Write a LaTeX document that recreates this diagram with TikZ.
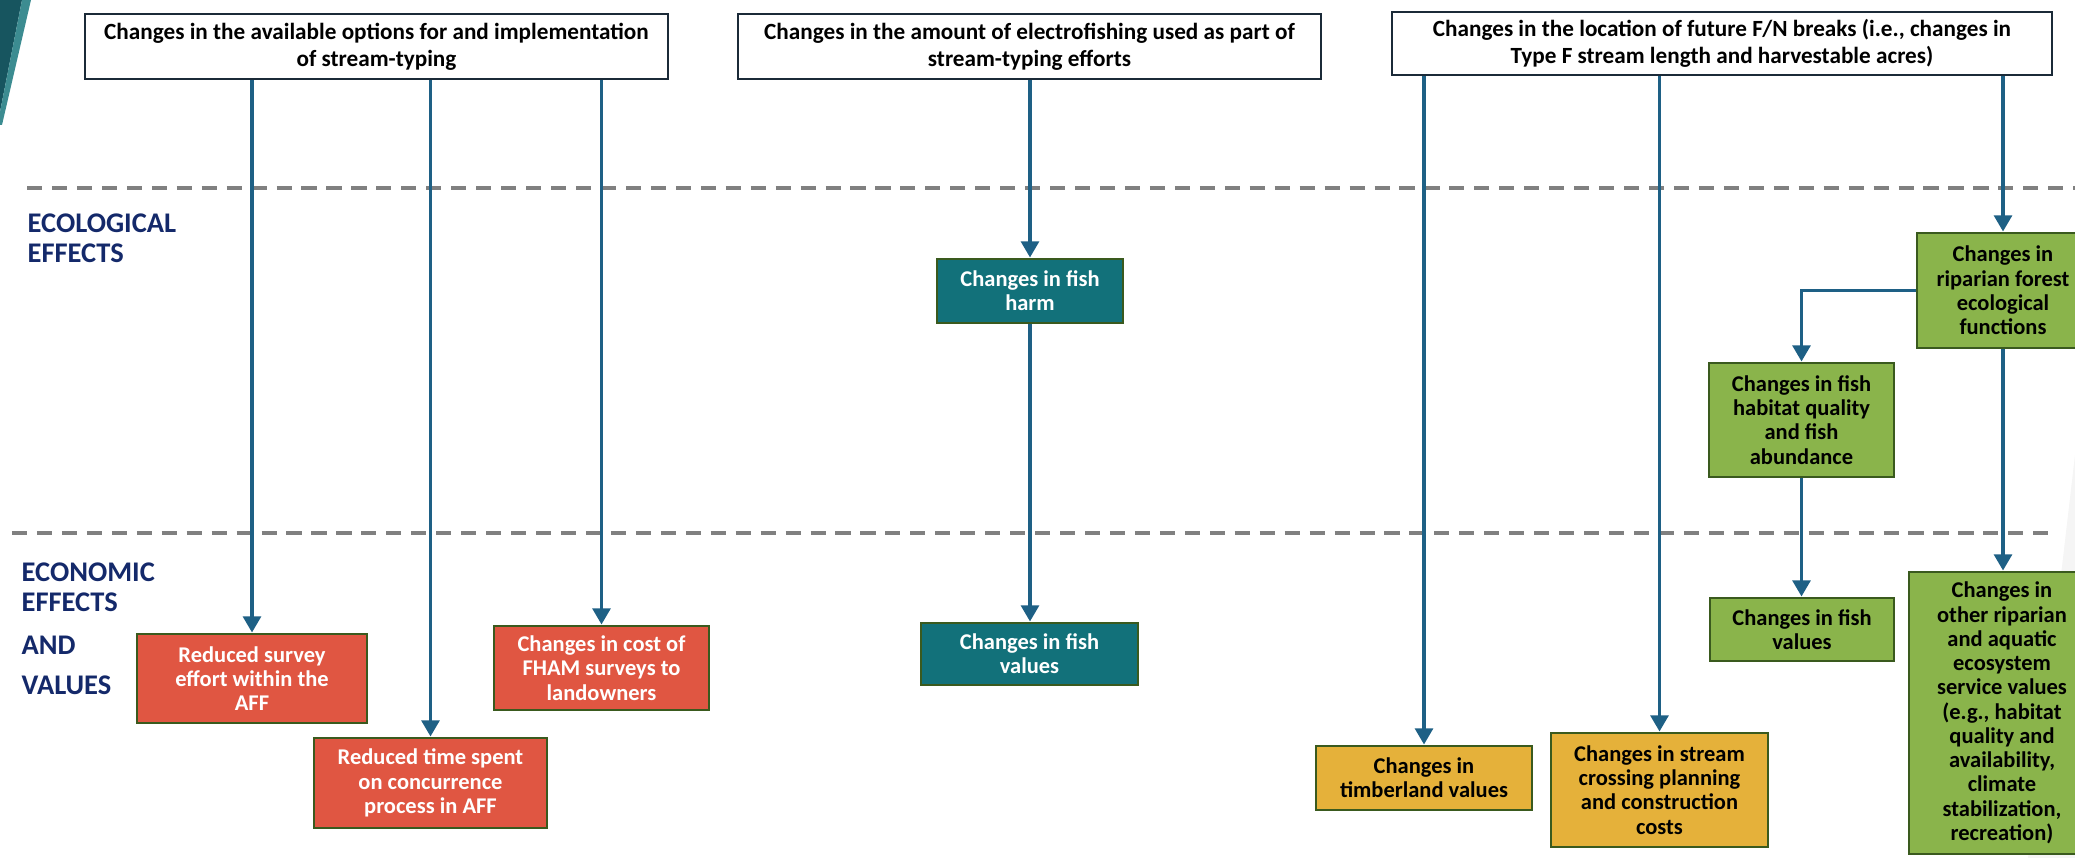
\documentclass[tikz,border=0pt]{standalone}
\usepackage{fontspec}
\setmainfont{Carlito}
\usepackage{xcolor}
\usetikzlibrary{arrows.meta, positioning}

\definecolor{flowblue}{HTML}{1E6085}
\definecolor{sepgray}{HTML}{808080}
\definecolor{labelnavy}{HTML}{14296A}
\definecolor{topedge}{HTML}{1B2A38}
\definecolor{edgegreen}{HTML}{3A5A1E}
\definecolor{redfill}{HTML}{E05642}
\definecolor{tealfill}{HTML}{12717A}
\definecolor{yellowfill}{HTML}{E5B13A}
\definecolor{greenfill}{HTML}{8AB44B}
\definecolor{decordark}{HTML}{17555F}
\definecolor{decorlight}{HTML}{3C8C91}

\begin{document}
\begin{tikzpicture}[
    effect/.style={draw=edgegreen, line width=0.8pt, inner sep=0pt, align=center, font=\fontsize{6.4}{6.9}\selectfont\bfseries},
    topbox/.style={effect, draw=topedge, fill=white, font=\fontsize{6.6}{7.6}\selectfont\bfseries},
    redbox/.style={effect, fill=redfill, text=white},
    tealbox/.style={effect, fill=tealfill, text=white},
    yellowbox/.style={effect, fill=yellowfill, text=black},
    greenbox/.style={effect, fill=greenfill, text=black},
    flow/.style={draw=flowblue, line width=1.1pt, -{Triangle[length=4.6pt, width=5pt]}},
    sep/.style={draw=sepgray, line width=1.15pt, dash pattern=on 4.3pt off 2.8pt},
    lbl/.style={text=labelnavy, font=\fontsize{8.1}{8.1}\selectfont\bfseries, inner sep=0pt, anchor=base west}
]
\useasboundingbox (0,0) rectangle (20.75,-8.58);
\clip (0,0) rectangle (20.75,-8.58);

\fill[decordark] (0,0) -- (0.22,0) -- (0,-1.12) -- cycle;
\fill[decorlight] (0.22,0) -- (0.31,0) -- (0.02,-1.25) -- (0,-1.25) -- (0,-1.12) -- cycle;
\fill[gray!8] (20.75,-4.55) -- (20.28,-8.58) -- (20.75,-8.58) -- cycle;

\draw[sep] (0.27,-1.88) -- (20.75,-1.88);
\draw[sep] (0.12,-5.33) -- (20.48,-5.33);

\node[lbl] (ecol1) at (0.27,-2.33) {ECOLOGICAL};
\node[lbl] (ecol2) at (0.27,-2.63) {EFFECTS};
\foreach \txt/\yy [count=\i] in {ECONOMIC/5.82, EFFECTS/6.12, AND/6.55, VALUES/6.95}
    \node[lbl] (econ\i) at (0.21,-\yy) {\txt};

\node[topbox, minimum width=5.83cm, minimum height=0.65cm] (options) at (3.765,-0.465) {Changes in the available options for and implementation\\of stream-typing};
\node[topbox, minimum width=5.83cm, minimum height=0.65cm] (fishing) at (10.295,-0.465) {Changes in the amount of electrofishing used as part of\\stream-typing efforts};
\node[topbox, minimum width=6.60cm, minimum height=0.63cm] (breaks) at (17.22,-0.435) {Changes in the location of future F/N breaks (i.e., changes in\\Type F stream length and harvestable acres)};

\node[redbox, minimum width=2.30cm, minimum height=0.89cm] (survey) at (2.52,-6.785) {Reduced survey\\effort within the\\AFF};
\node[redbox, minimum width=2.33cm, minimum height=0.90cm] (concur) at (4.305,-7.83) {Reduced time spent\\on concurrence\\process in AFF};
\node[redbox, minimum width=2.15cm, minimum height=0.84cm] (fham) at (6.015,-6.68) {Changes in cost of\\FHAM surveys to\\landowners};

\node[tealbox, minimum width=1.86cm, minimum height=0.64cm] (harm) at (10.30,-2.91) {Changes in fish\\harm};
\node[tealbox, minimum width=2.17cm, minimum height=0.62cm] (fishval) at (10.295,-6.54) {Changes in fish\\values};

\node[yellowbox, minimum width=2.16cm, minimum height=0.64cm] (timber) at (14.24,-7.78) {Changes in\\timberland values};
\node[yellowbox, minimum width=2.17cm, minimum height=1.14cm] (crossing) at (16.595,-7.90) {Changes in stream\\crossing planning\\and construction\\costs};

\node[greenbox, minimum width=1.72cm, minimum height=1.15cm] (riparian) at (20.03,-2.905) {Changes in\\riparian forest\\ecological\\functions};
\node[greenbox, minimum width=1.85cm, minimum height=1.14cm] (habitat) at (18.015,-4.20) {Changes in fish\\habitat quality\\and fish\\abundance};
\node[greenbox, minimum width=1.84cm, minimum height=0.63cm] (habval) at (18.02,-6.295) {Changes in fish\\values};
\node[greenbox, minimum width=1.86cm, minimum height=2.82cm] (ecoserv) at (20.02,-7.13) {Changes in\\other riparian\\and aquatic\\ecosystem\\service values\\(e.g., habitat\\quality and\\availability,\\climate\\stabilization,\\recreation)};

\foreach \b in {survey, concur, fham}
    \draw[flow] (options.south -| \b.north) -- (\b.north);

\draw[flow] (fishing.south -| harm.north) -- (harm.north);
\draw[flow] (harm.south) -- (harm.south |- fishval.north);

\foreach \b in {timber, crossing, riparian}
    \draw[flow] (breaks.south -| \b.north) -- (\b.north);

\draw[flow] (riparian.west) -| (habitat.north);
\draw[flow] (habitat.south) -- (habitat.south |- habval.north);
\draw[flow] (riparian.south) -- (riparian.south |- ecoserv.north);
\end{tikzpicture}
\end{document}
